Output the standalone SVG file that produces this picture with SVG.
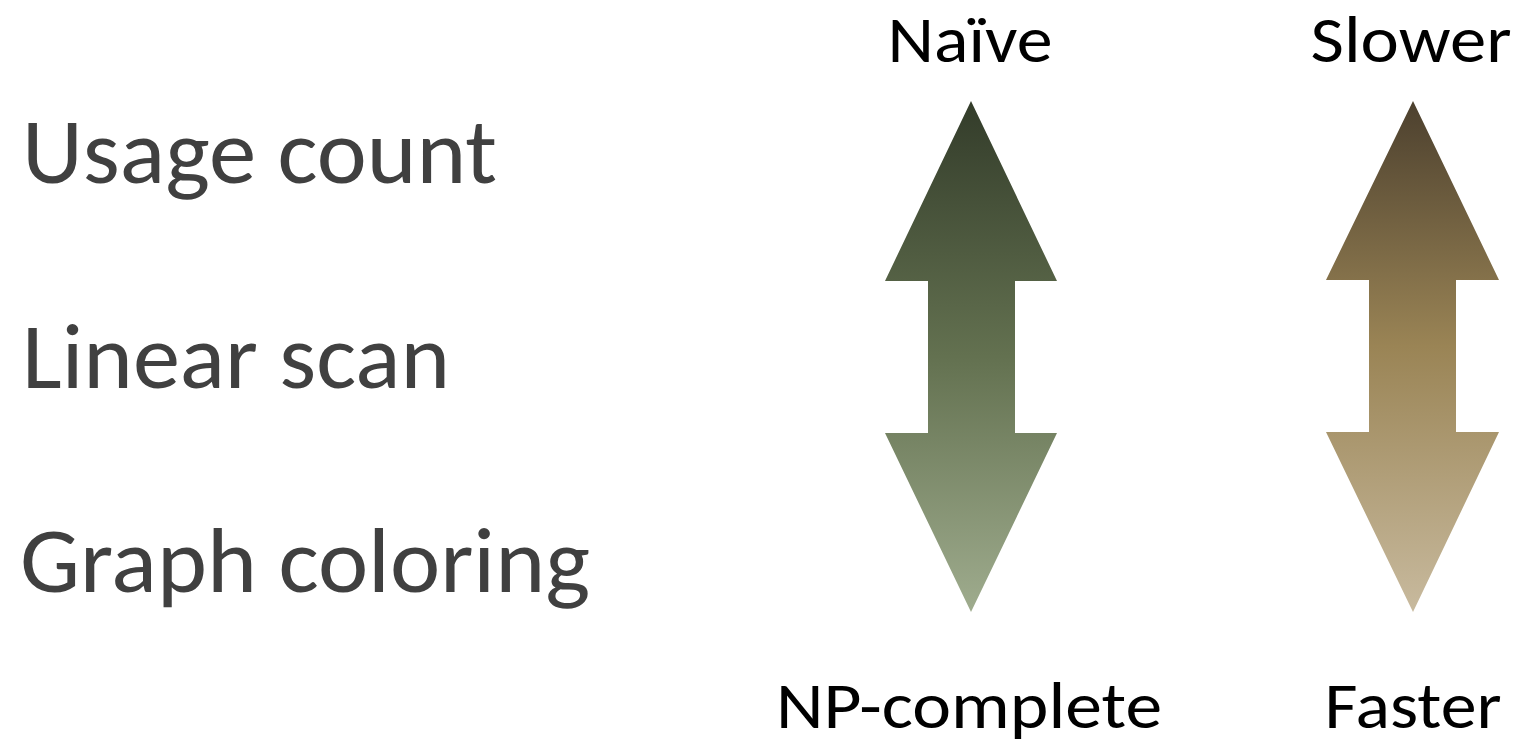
<svg xmlns="http://www.w3.org/2000/svg" width="1524" height="742" viewBox="0 0 1524 742">
  <defs>
    <linearGradient id="gradGreen" x1="0" y1="0" x2="0" y2="1">
      <stop offset="0" stop-color="#333c2a"/>
      <stop offset="0.5" stop-color="#637150"/>
      <stop offset="1" stop-color="#9fac8e"/>
    </linearGradient>
    <linearGradient id="gradBrown" x1="0" y1="0" x2="0" y2="1">
      <stop offset="0" stop-color="#4c402e"/>
      <stop offset="0.48" stop-color="#9a8455"/>
      <stop offset="1" stop-color="#c8ba9e"/>
    </linearGradient>
    <style>
      .item { font-family: Carlito, "Open Sans", "Noto Sans", sans-serif; font-size: 93px; fill: #404040; }
      .scale { font-family: Carlito, "Open Sans", "Noto Sans", sans-serif; font-size: 65px; fill: #000000; text-anchor: middle; }
    </style>
  </defs>

  <!-- allocator list -->
  <g id="usage-count"><text class="item" x="22" y="183" textLength="475" lengthAdjust="spacingAndGlyphs">Usage count</text></g>
  <g id="linear-scan"><text class="item" x="22" y="388" textLength="428" lengthAdjust="spacingAndGlyphs">Linear scan</text></g>
  <g id="graph-coloring"><text class="item" x="20" y="592" textLength="570" lengthAdjust="spacingAndGlyphs">Graph coloring</text></g>

  <!-- quality scale -->
  <g id="quality-scale">
    <path d="M971,101 L1057,281 L1015,281 L1015,433 L1057,433 L971,612 L885,433 L928,433 L928,281 L885,281 Z" fill="url(#gradGreen)"/>
    <text class="scale" x="970" y="62" textLength="165" lengthAdjust="spacingAndGlyphs">Naïve</text>
    <text class="scale" x="969" y="728" textLength="386" lengthAdjust="spacingAndGlyphs">NP-complete</text>
  </g>

  <!-- speed scale -->
  <g id="speed-scale">
    <path d="M1413,101 L1499,280 L1456,280 L1456,432 L1499,432 L1413,612 L1326,432 L1369,432 L1369,280 L1326,280 Z" fill="url(#gradBrown)"/>
    <text class="scale" x="1411" y="62" textLength="201" lengthAdjust="spacingAndGlyphs">Slower</text>
    <text class="scale" x="1413" y="728" textLength="177" lengthAdjust="spacingAndGlyphs">Faster</text>
  </g>

  <g id="connectors"></g>
</svg>
